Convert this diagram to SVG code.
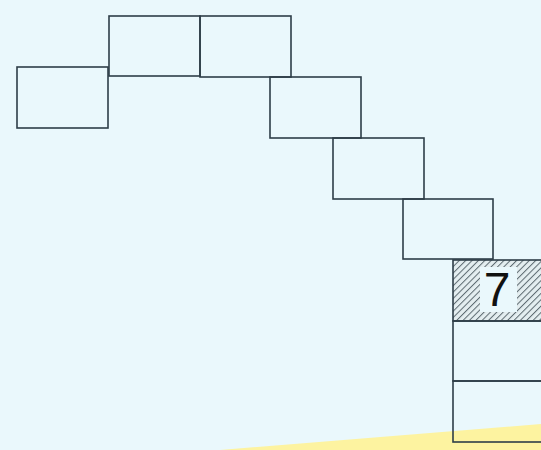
<svg xmlns="http://www.w3.org/2000/svg" width="541" height="450" viewBox="0 0 541 450">
<style>
.b{fill:none;stroke:#2e3e48;stroke-width:1.6}
.t{font-family:"Liberation Sans",Arial,sans-serif;font-size:48px;fill:#111;text-anchor:middle}
</style>
<defs>
<pattern id="h" width="4.5" height="4.5" patternUnits="userSpaceOnUse" patternTransform="rotate(45)">
<rect width="4.5" height="4.5" fill="#e4eef0"/>
<line x1="0" y1="0" x2="0" y2="4.5" stroke="#5c6a70" stroke-width="2"/>
</pattern>
</defs>
<rect width="541" height="450" fill="#eaf8fc"/>
<polygon points="220,450 541,424 541,450" fill="#fdf3a0"/>
<g id="n1"><rect class="b" x="17" y="67" width="91" height="61"/></g>
<g id="n2"><rect class="b" x="109" y="16" width="91" height="60"/></g>
<g id="n3"><rect class="b" x="200" y="16" width="91" height="61"/></g>
<g id="n4"><rect class="b" x="270" y="77" width="91" height="61"/></g>
<g id="n5"><rect class="b" x="333" y="138" width="91" height="61"/></g>
<g id="n6"><rect class="b" x="403" y="199" width="90" height="60"/></g>
<g id="n7"><rect x="453" y="260" width="92" height="61" fill="url(#h)" stroke="#2e3e48" stroke-width="1.6"/>
<rect x="480" y="267" width="37" height="45" fill="#eaf8fc"/>
<text class="t" x="497" y="306">7</text></g>
<g id="n8"><rect class="b" x="453" y="321" width="92" height="60"/></g>
<g id="n9"><rect class="b" x="453" y="381" width="92" height="61"/></g>
<g id="connectors"></g>
</svg>
